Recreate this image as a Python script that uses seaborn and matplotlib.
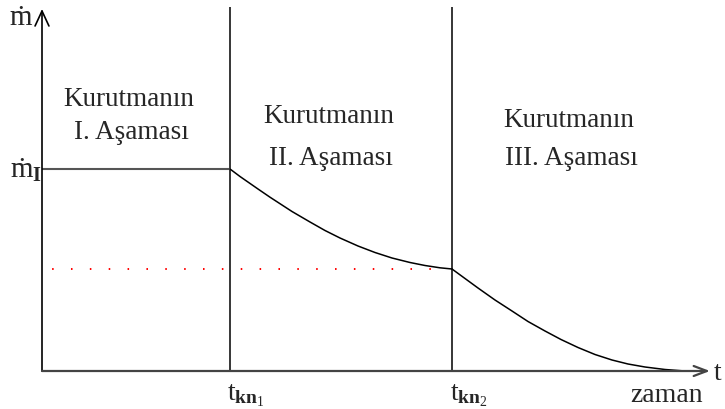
import matplotlib
matplotlib.use("Agg")
import matplotlib.pyplot as plt
import seaborn as sns
import pandas as pd

# Drying-rate curve (time in arbitrary units, rate in arbitrary units)
t_kn1 = 1.88
t_kn2 = 4.10
m_I = 2.02
m_kn2 = 1.02

# Stage I: constant rate
stage1_t = [0.00, 1.88]
stage1_m = [2.02, 2.02]

# Stage II: first falling-rate period
stage2_t = [1.88, 1.98, 2.16, 2.28, 2.50, 2.68, 2.83, 2.98,
            3.16, 3.33, 3.50, 3.68, 3.83, 3.98, 4.10]
stage2_m = [2.02, 1.945, 1.82, 1.738, 1.595, 1.49, 1.405, 1.33,
            1.25, 1.185, 1.13, 1.085, 1.055, 1.032, 1.02]

# Stage III: second falling-rate period
stage3_t = [4.10, 4.23, 4.36, 4.53, 4.70, 4.86, 5.03, 5.19,
            5.36, 5.53, 5.70, 5.86, 6.03, 6.23, 6.43]
stage3_m = [1.02, 0.925, 0.83, 0.71, 0.60, 0.495, 0.40, 0.315,
            0.235, 0.165, 0.11, 0.07, 0.04, 0.015, 0.00]

stage_word = "Kurutmanın"
stage_names = ["I. Aşaması", "II. Aşaması", "III. Aşaması"]

sns.set_theme(style="white")
plt.rcParams["font.family"] = ["Liberation Serif", "DejaVu Serif"]
plt.rcParams["mathtext.fontset"] = "custom"
plt.rcParams["mathtext.rm"] = "Liberation Serif"
plt.rcParams["mathtext.bf"] = "Liberation Serif:bold"
plt.rcParams["mathtext.it"] = "Liberation Serif:italic"

fig = plt.figure(figsize=(7.25, 4.10), dpi=100)
ax = fig.add_axes([42 / 725, 38 / 410, 668 / 725, 364 / 410])
x_max, y_max = 6.68, 3.64

# Axes with open arrowheads
ax.annotate("", xy=(0, 3.62), xytext=(0, 0),
            arrowprops=dict(arrowstyle="->,head_length=1.08,head_width=0.5",
                            mutation_scale=10, color="black", lw=1.2,
                            shrinkA=0, shrinkB=0), annotation_clip=False)
ax.annotate("", xy=(x_max, 0), xytext=(0, 0),
            arrowprops=dict(arrowstyle="->,head_length=0.95,head_width=0.36",
                            mutation_scale=10, color="#444444", lw=1.6,
                            shrinkA=0, shrinkB=0), annotation_clip=False)

# Stage boundaries
for tb in (t_kn1, t_kn2):
    ax.plot([tb, tb], [0, y_max], color="black", lw=1.1, solid_capstyle="butt")

# Reference level of the critical rate
ax.plot([0, 3.95], [m_kn2, m_kn2], color="red", lw=1.4,
        linestyle=(4.5, (0.8, 8.9)))

# Drying-rate curve
df1 = pd.DataFrame({"t": stage1_t, "m": stage1_m})
df2 = pd.DataFrame({"t": stage2_t, "m": stage2_m})
df3 = pd.DataFrame({"t": stage3_t, "m": stage3_m})
sns.lineplot(data=df1, x="t", y="m", ax=ax, color="#555555", lw=1.5, sort=False)
for d in (df2, df3):
    sns.lineplot(data=d, x="t", y="m", ax=ax, color="black", lw=1.1,
                 sort=False, solid_joinstyle="round")
ax.set_xlim(0, x_max)
ax.set_ylim(0, y_max)
ax.axis("off")

fs = 19.5
# (x center, baseline of first line, baseline of second line)
title_pos = [(0.87, 2.66, 2.33), (2.87, 2.49, 2.07), (5.27, 2.45, 2.07)]
for (tx, y1, y2), name in zip(title_pos, stage_names):
    ax.text(tx, y1, stage_word, ha="center", va="baseline", fontsize=fs,
            clip_on=False)
    ax.text(tx + 0.02, y2, name, ha="center", va="baseline", fontsize=fs,
            clip_on=False)

# Axis labels
ax.text(-0.21, 3.47, "ṁ", ha="center", va="baseline", fontsize=21, clip_on=False)
ax.text(-0.32, 1.94, r"ṁ$_{\mathbf{I}}$", ha="left", va="baseline",
        fontsize=21, clip_on=False)
ax.text(t_kn1 - 0.03, -0.28, r"t$_{\mathbf{kn}_{1}}$", ha="left",
        va="baseline", fontsize=20, clip_on=False)
ax.text(t_kn2 - 0.02, -0.28, r"t$_{\mathbf{kn}_{2}}$", ha="left",
        va="baseline", fontsize=20, clip_on=False)
ax.text(6.72, -0.08, "t", ha="left", va="baseline", fontsize=20, clip_on=False)
ax.text(6.25, -0.30, "zaman", ha="center", va="baseline", fontsize=20,
        clip_on=False)

fig.savefig("out.png", dpi=100, facecolor="white")
